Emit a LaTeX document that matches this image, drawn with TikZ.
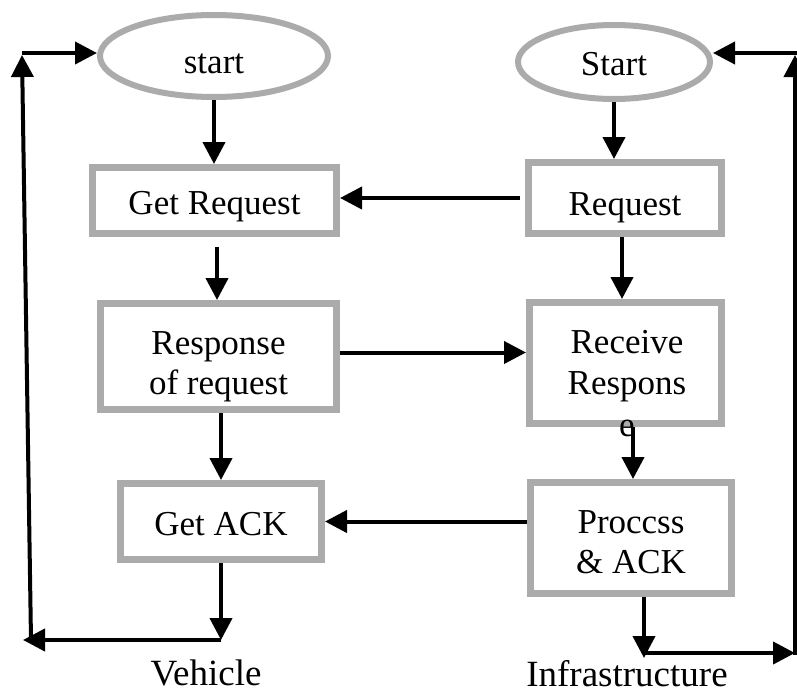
\documentclass[tikz,border=0pt]{standalone}
\usepackage{fontspec}
\setmainfont{Liberation Serif}
\usetikzlibrary{arrows.meta,shapes.geometric}
\definecolor{boxgray}{HTML}{ABABAB}
\begin{document}
\begin{tikzpicture}[x=1pt,y=-1pt,
  box/.style={draw=boxgray, line width=7pt, rectangle, inner sep=0pt, align=center, font=\fontsize{35}{40}\selectfont},
  oval/.style={draw=boxgray, line width=6pt, ellipse, inner sep=0pt, font=\fontsize{35}{40}\selectfont},
  arr/.style={line width=4pt, -{Triangle[length=22pt,width=22pt]}},
  lbl/.style={font=\fontsize{37}{40}\selectfont, anchor=base, inner sep=0pt}]
\useasboundingbox (0,0) rectangle (797,693);

% nodes
\node[oval, minimum width=228pt, minimum height=82pt, text height=36pt, text depth=0pt] (vstart) at (214,56) {start};
\node[oval, minimum width=192pt, minimum height=74pt, text height=26pt, text depth=0pt] (istart) at (614,62) {Start};
\node[box, minimum width=244pt, minimum height=66pt, text height=36pt] (getreq) at (214.5,200.5) {Get Request};
\node[box, minimum width=236pt, minimum height=106pt, text height=83pt] (resp) at (218.5,356.5) {Response\\of request};
\node[box, minimum width=201pt, minimum height=76pt, text height=28pt] (getack) at (221,521.5) {Get ACK};
\node[box, minimum width=193pt, minimum height=71pt, text height=42pt] (req) at (625,198) {Request};
\node[box, minimum width=192pt, minimum height=121pt] (recv) at (625.5,363) {};
\node[font=\fontsize{35}{41.5}\selectfont, align=center, inner sep=0pt, anchor=north] (recvtxt) at (627,330) {Receive\\Respons\\e};
\node[box, minimum width=201pt, minimum height=111pt, text height=71pt] (proc) at (631,538) {Proccss\\\& ACK};

\node[lbl] (veh) at (206,685) {Vehicle};
\node[lbl] (infra) at (627,686) {Infrastructure};

% corner coordinates
\coordinate (cBL) at (221,640);
\coordinate (cBLL) at (23,640);
\coordinate (cL1) at (31,640);
\coordinate (cL2) at (22,55);
\coordinate (cL3) at (22,53);
\coordinate (cBR) at (644,658);
\coordinate (cBR2) at (644,653);
\coordinate (cBRR) at (795,653);
\coordinate (cR1) at (795,655);
\coordinate (cR2) at (795,55);
\coordinate (cR3) at (797,53);

% vehicle column
\draw[arr] (vstart.south) -- (vstart.south |- getreq.north);
\draw[arr, shorten <=10pt] ([xshift=2.5pt]getreq.south) -- ([xshift=2.5pt]getreq.south |- resp.north);
\draw[arr] ([xshift=2.5pt]resp.south) -- ([xshift=2.5pt]resp.south |- getack.north);
\draw[arr] (getack.south) -- (cBL);
\draw[arr] (cBL) -- (cBLL);
\draw[arr] (cL1) -- (cL2);
\draw[arr] (cL3) -- (cL3 -| vstart.west);

% infrastructure column
\draw[arr] (istart.south) -- (istart.south |- req.north);
\draw[arr] ([xshift=-3pt]req.south) -- ([xshift=-3pt]req.south |- recv.north);
\draw[arr] ([xshift=7.5pt]recv.south) -- ([xshift=7.5pt]recv.south |- proc.north);
\draw[arr] ([xshift=13pt]proc.south) -- (cBR);
\draw[arr] (cBR2) -- (cBRR);
\draw[arr] (cR1) -- (cR2);
\draw[arr] (cR3) -- (cR3 -| istart.east);

% cross arrows
\draw[arr, shorten <=5pt] (req.west) -- (req.west -| getreq.east);
\draw[arr] ([yshift=4pt]resp.east) -- ([yshift=4pt]resp.east -| recv.west);
\draw[arr] (proc.west |- getack.east) -- (getack.east);
\end{tikzpicture}
\end{document}
